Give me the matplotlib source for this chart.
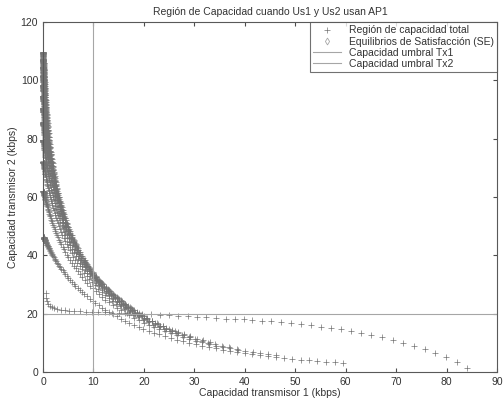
import numpy as np
import matplotlib
matplotlib.use("Agg")
import matplotlib.pyplot as plt

plt.rcParams['font.family'] = ['Liberation Sans', 'DejaVu Sans']

# Transmit power levels, normalised to the receiver noise at AP1
p1_db = np.arange(-17.0, 15.45, 0.3)            # Tx1: fine steps in dB
p2_lin = 4.04 + 3.7 * np.arange(12)             # Tx2: uniform steps in linear scale
bandwidth_khz = 20.0

# Lowest Tx2 level: achieved (C1, C2) pairs in kbps
low_c1 = [0.5, 0.6, 0.8, 1.0, 1.3, 1.7, 2.2, 2.8, 3.5, 4.3, 5.2, 6.2, 7.3, 8.5, 9.7,
          11.0, 12.3, 13.7, 15.1, 16.6, 18.1, 19.7, 21.4,
          23.2, 25.0, 26.8, 28.7, 30.5, 32.4, 34.3, 36.2, 38.10, 39.75, 41.53, 43.39,
          45.24, 47.22, 49.14, 51.13, 53.11, 55.09, 57.08, 59.06, 61.05, 63.10, 65.08,
          67.20, 69.31, 71.36, 73.55, 75.66, 77.78, 79.96, 82.08, 84.06]
low_c2 = [27.0, 25.5, 24.3, 23.4, 22.7, 22.2, 21.8, 21.5, 21.3, 21.1, 21.0, 20.9, 20.8,
          20.7, 20.6, 20.5, 20.45, 20.4, 20.3, 20.2, 20.1, 20.0, 19.9,
          19.7, 19.5, 19.3, 19.1, 18.9, 18.7, 18.5, 18.3, 18.15, 18.04, 17.81, 17.58,
          17.35, 17.12, 16.78, 16.44, 15.98, 15.53, 15.07, 14.61, 14.04, 13.47, 12.67,
          11.87, 11.07, 10.05, 8.90, 7.76, 6.39, 5.02, 3.32, 1.26]

se_c1 = []
se_c2 = []

thr_tx1 = 10.0
thr_tx2 = 20.0

# Both users share AP1: each one sees the other as interference
P1, P2 = np.meshgrid(10 ** (p1_db / 10), p2_lin)
c1 = bandwidth_khz * np.log2(1 + P1 / (1 + P2))
c2 = bandwidth_khz * np.log2(1 + P2 / (1 + P1))
all_c1 = np.concatenate([c1.ravel(), low_c1])
all_c2 = np.concatenate([c2.ravel(), low_c2])

fig = plt.figure(figsize=(5.03, 4.03), dpi=100)
ax = fig.add_axes([0.0855, 0.077, 0.9025, 0.868])
ax.plot(all_c1, all_c2, '+', color='0.45', ms=4, mew=0.5, clip_on=False,
        label='Región de capacidad total')
ax.plot(se_c1, se_c2, 'd', mfc='none', mec='0.65', ms=3.5, mew=0.6,
        label='Equilibrios de Satisfacción (SE)')
ax.axvline(thr_tx1, color='0.65', lw=0.8, label='Capacidad umbral Tx1')
ax.axhline(thr_tx2, color='0.65', lw=0.8, label='Capacidad umbral Tx2')
ax.set_xlim(0, 90)
ax.set_ylim(0, 120)
ax.set_xticks(range(0, 91, 10))
ax.set_yticks(range(0, 121, 20))
ax.tick_params(direction='in', top=True, right=True, labelsize=7.5, length=3,
               color='0.3', labelcolor='0.2')
for s in ax.spines.values():
    s.set_color('0.35')
    s.set_linewidth(0.8)
ax.set_xlabel('Capacidad transmisor 1 (kbps)', fontsize=7.5, labelpad=1, color='0.2')
ax.set_ylabel('Capacidad transmisor 2 (kbps)', fontsize=7.5, labelpad=2, color='0.2')
ax.set_title('Región de Capacidad cuando Us1 y Us2 usan AP1', fontsize=7.5, pad=5,
             color='0.2')
leg = ax.legend(loc='upper right', fontsize=7.5, frameon=True, fancybox=False,
                edgecolor='0.3', borderpad=0.3, labelspacing=0.12, handlelength=2.6,
                borderaxespad=0, labelcolor='0.2')
leg.get_frame().set_linewidth(0.8)
leg.set_zorder(5)
fig.savefig('out.png', dpi=100)
